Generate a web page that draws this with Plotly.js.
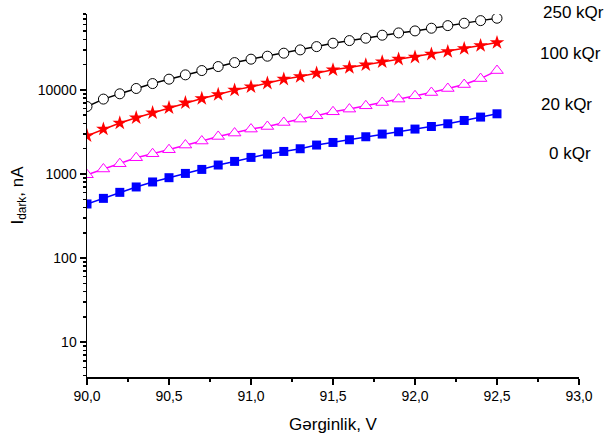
<!DOCTYPE html>
<html>
<head>
<meta charset="utf-8">
<script src="https://cdn.plot.ly/plotly-3.0.1.min.js"></script>
<style>html,body{margin:0;padding:0;background:#fff;}#chart{width:609px;height:435px;}</style>
</head>
<body>
<div id="chart"></div>
<script>
// Voltage (V)
const voltage = [90.0, 90.1, 90.2, 90.3, 90.4, 90.5, 90.6, 90.7, 90.8, 90.9, 91.0, 91.1, 91.2,
                 91.3, 91.4, 91.5, 91.6, 91.7, 91.8, 91.9, 92.0, 92.1, 92.2, 92.3, 92.4, 92.5];

// Dark current (nA) per irradiation dose
const dose0 = [440, 513, 605, 701, 804, 904, 1016, 1134, 1279, 1412, 1575, 1728, 1855,
               1997, 2210, 2373, 2554, 2773, 2985, 3179, 3422, 3675, 3957, 4333, 4753, 5200];
const dose20 = [980, 1147, 1325, 1562, 1742, 1944, 2210, 2466, 2797, 3069, 3422, 3675, 4100,
                4500, 4924, 5495, 5915, 6474, 7083, 7780, 8510, 9310, 10400, 11590, 13650, 17000];
const dose100 = [2850, 3422, 4034, 4664, 5345, 6127, 7025, 7902, 8815, 9950, 10880, 12040, 13430,
                 14430, 15840, 17330, 18450, 19870, 21560, 23220, 24530, 26620, 28580, 31020, 33670, 36550];
const dose250 = [6350, 7780, 8990, 10400, 11900, 13430, 15110, 17000, 18970, 21150, 23220, 25190, 27360,
                 29940, 32750, 35960, 38620, 41230, 44770, 47660, 50350, 54200, 58210, 62130, 66730, 71250];

const seriesLabels = ["0 kQr", "20 kQr", "100 kQr", "250 kQr"];

const traces = [
  {x: voltage, y: dose0, mode: 'lines+markers', name: seriesLabels[0],
   line: {color: '#0000FF', width: 1.5},
   marker: {symbol: 'square', size: 9, color: '#0000FF', line: {width: 0}}},
  {x: voltage, y: dose20, mode: 'lines+markers', name: seriesLabels[1],
   line: {color: '#FF00FF', width: 1.5},
   marker: {symbol: 'triangle-up', size: 11, color: '#FFFFFF', line: {color: '#FF00FF', width: 1}}},
  {x: voltage, y: dose100, mode: 'lines+markers', name: seriesLabels[2],
   line: {color: '#FF0000', width: 1.5},
   marker: {symbol: 'star', size: 11, color: '#FF0000', line: {width: 0}}},
  {x: voltage, y: dose250, mode: 'lines+markers', name: seriesLabels[3],
   line: {color: '#000000', width: 1.5},
   marker: {symbol: 'circle', size: 10, color: '#FFFFFF', line: {color: '#000000', width: 1}}}
];

const font = {family: 'Liberation Sans, Arial, sans-serif', color: '#000'};

const labelPos = [
  {x: 0.935, y: 0.615},
  {x: 0.919, y: 0.752},
  {x: 0.917, y: 0.890},
  {x: 0.923, y: 1.003}
];

const annotations = seriesLabels.map((t, i) => ({
  text: t, xref: 'paper', yref: 'paper', x: labelPos[i].x, y: labelPos[i].y,
  xanchor: 'left', yanchor: 'middle', showarrow: false,
  font: Object.assign({}, font, {size: 17})
}));

const layout = {
  width: 609, height: 435,
  margin: {l: 87, r: 30, t: 14, b: 58},
  paper_bgcolor: '#fff', plot_bgcolor: '#fff',
  showlegend: false,
  separators: ', ',
  font: font,
  xaxis: {
    range: [90, 93], dtick: 0.5, tick0: 90, tickformat: '.1f',
    showgrid: false, zeroline: false,
    showline: true, linecolor: '#000', linewidth: 1.5,
    ticks: 'outside', ticklen: 6, tickwidth: 1.5, tickcolor: '#000',
    tickfont: Object.assign({}, font, {size: 14}),
    minor: {dtick: 0.25, ticks: 'outside', ticklen: 3, tickwidth: 1.5, tickcolor: '#000', showgrid: false},
    title: {text: 'Gərginlik, V', font: Object.assign({}, font, {size: 17}), standoff: 15}
  },
  yaxis: {
    type: 'log', range: [Math.log10(3.85), Math.log10(80000)], dtick: 1, tickformat: '.0f',
    showgrid: false, zeroline: false,
    showline: true, linecolor: '#000', linewidth: 1.5,
    ticks: 'outside', ticklen: 6, tickwidth: 1.5, tickcolor: '#000',
    tickfont: Object.assign({}, font, {size: 14}),
    minor: {dtick: 'D1', ticks: 'outside', ticklen: 3, tickwidth: 1.5, tickcolor: '#000', showgrid: false},
    title: {text: 'I<sub>dark</sub>, nA', font: Object.assign({}, font, {size: 17}), standoff: 10}
  },
  annotations: annotations
};

Plotly.newPlot('chart', traces, layout, {displayModeBar: false, staticPlot: true});
</script>
</body>
</html>
